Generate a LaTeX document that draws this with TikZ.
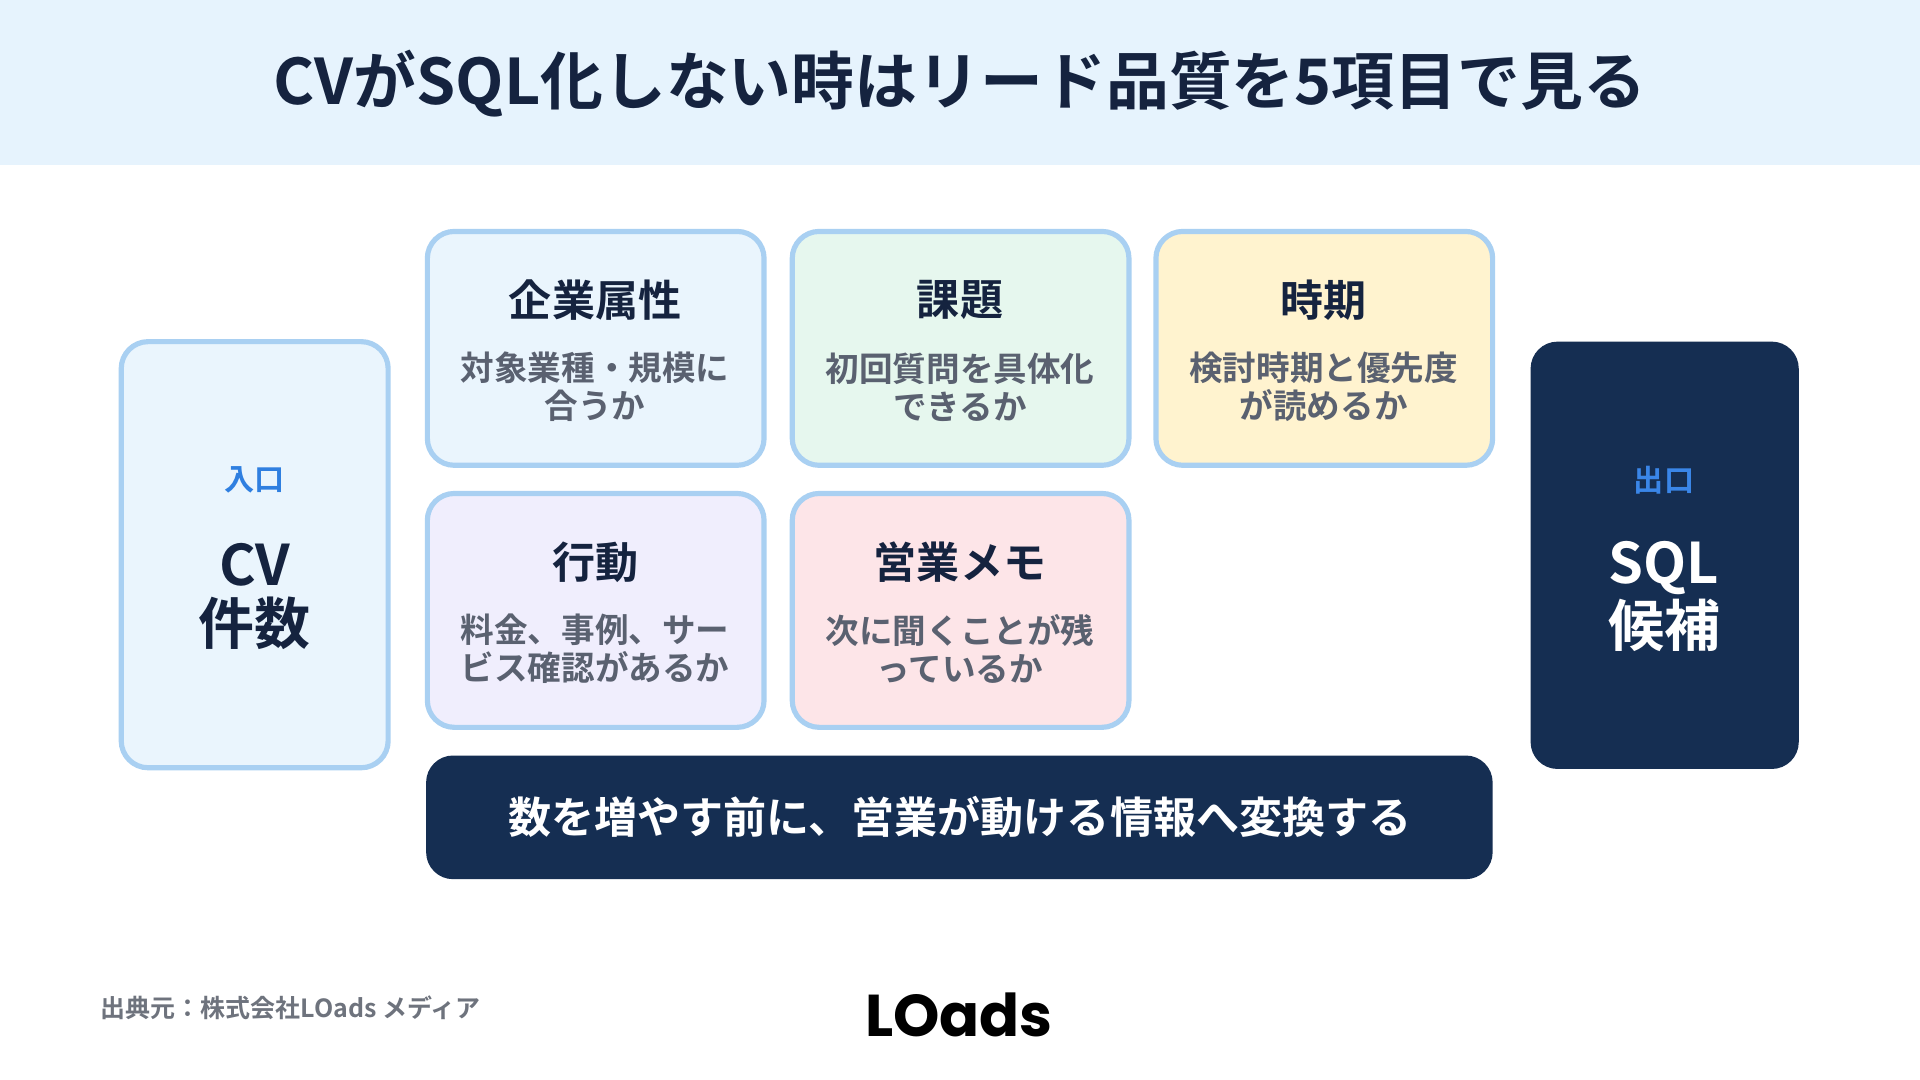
\documentclass[tikz,border=0pt]{standalone}
\usepackage{fontspec}
\usetikzlibrary{calc}
\setmainfont{Noto Sans CJK JP}[BoldFont={* Bold}]
\newfontfamily\cjkb{Noto Sans CJK JP Bold}
\newfontfamily\logo{Poppins}
\definecolor{navy}{HTML}{152E52}
\definecolor{ink}{HTML}{15233F}
\definecolor{bord}{HTML}{A9D0F2}
\definecolor{sub}{HTML}{5A6170}
\definecolor{acc}{HTML}{2F7FE0}
\begin{document}
\begin{tikzpicture}[x=0.01cm,y=-0.01cm,
 card/.style={draw=bord,line width=1.2pt,rounded corners=0.22cm},
 ttl/.style={font=\cjkb\fontsize{10pt}{11pt}\selectfont,text=ink},
 sb/.style={font=\cjkb\fontsize{7.8pt}{8.8pt}\selectfont,text=sub,align=center}]
\useasboundingbox (0,0) rectangle (1568,882);
\fill[white] (0,0) rectangle (1568,882);
\fill[fill={rgb,255:red,230;green,243;blue,253}] (0,0) rectangle (1568,135);
\node[font=\cjkb\fontsize{14.6pt}{15pt}\selectfont,text=ink] (title) at (784,68) {CVがSQL化しない時はリード品質を5項目で見る};
% left
\draw[card,fill={rgb,255:red,234;green,245;blue,253}] (99,279) rectangle (317,627);
\node[font=\cjkb\fontsize{7pt}{8pt}\selectfont,text=acc] (in) at (208,392) {入口};
\node[font=\cjkb\fontsize{13pt}{13.6pt}\selectfont,text=ink,align=center] (cv) at (208,487) {CV\\件数};
% right
\fill[navy,rounded corners=0.22cm] (1250,279) rectangle (1469,628);
\node[font=\cjkb\fontsize{7pt}{8pt}\selectfont,text={rgb,255:red,58;green,134;blue,232}] (out) at (1359,392) {出口};
\node[font=\cjkb\fontsize{13pt}{13.6pt}\selectfont,text=white,align=center] (sql) at (1359,487) {SQL\\候補};
% cards
\newcommand\mycard[7]{%
 \draw[card,fill={#3}] (#1,#2) rectangle ++(275,191);
 \node[ttl] (#7) at ($(#1,#2)+(137,56)$) {#4};
 \node[sb] (#7s) at ($(#1,#2)+(137,127)$) {#5\\#6};}
\mycard{349}{189}{rgb,255:red,234;green,245;blue,253}{企業属性}{対象業種・規模に}{合うか}{c1}
\mycard{647}{189}{rgb,255:red,230;green,247;blue,238}{課題}{初回質問を具体化}{できるか}{c2}
\mycard{944}{189}{rgb,255:red,255;green,243;blue,207}{時期}{検討時期と優先度}{が読めるか}{c3}
\mycard{349}{403}{rgb,255:red,240;green,238;blue,253}{行動}{料金、事例、サー}{ビス確認があるか}{c4}
\mycard{647}{403}{rgb,255:red,253;green,229;blue,232}{営業メモ}{次に聞くことが残}{っているか}{c5}
% bar
\fill[navy,rounded corners=0.22cm] (348,617) rectangle (1219,718);
\node[font=\cjkb\fontsize{10pt}{11pt}\selectfont,text=white] (bar) at (784,667) {数を増やす前に、営業が動ける情報へ変換する};
% footer
\node[font=\cjkb\fontsize{5.8pt}{7pt}\selectfont,text={rgb,255:red,110;green,115;blue,125},anchor=west] (src) at (70,823) {出典元：株式会社LOads メディア};
\node[font=\logo\bfseries\fontsize{13.7pt}{14pt}\selectfont,text=black] (lg) at (783,829) {LOads};
\end{tikzpicture}
\end{document}
